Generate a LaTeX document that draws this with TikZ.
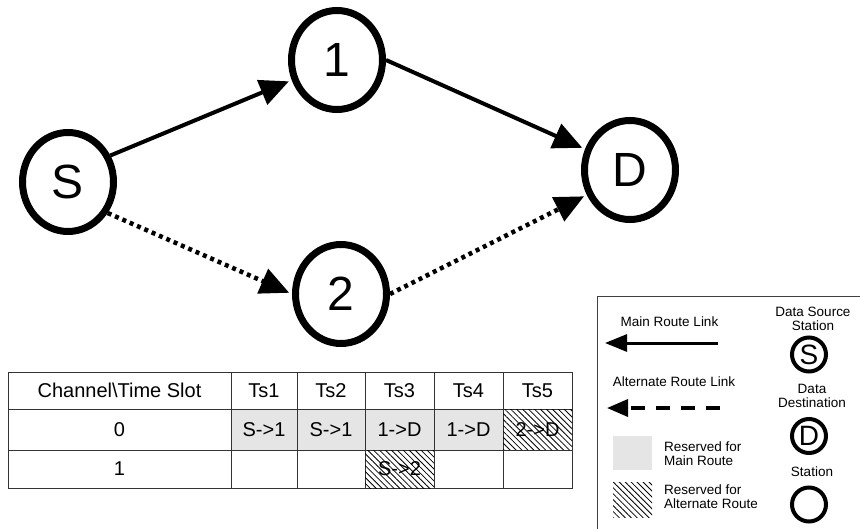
\documentclass[tikz,border=0pt]{standalone}
\usepackage{fontspec}
\setmainfont{Liberation Sans}
\usetikzlibrary{arrows.meta,shapes.geometric,patterns.meta}
\begin{document}
\begin{tikzpicture}[x=1pt,y=-1pt,
  station/.style={ellipse, draw, line width=7pt, minimum width=91pt, minimum height=99pt, inner sep=0pt, font=\fontsize{48}{48}\selectfont},
  mainlink/.style={line width=4pt, shorten >=3pt, -{Triangle[length=29pt,width=26pt]}},
  altlink/.style={line width=4.5pt, dash pattern=on 4pt off 4pt, shorten >=3pt, -{Triangle[length=29pt,width=26pt]}},
  cell/.style={draw=black!80, line width=1pt, inner sep=0pt, font=\fontsize{20}{20}\selectfont},
  maincell/.style={cell, fill=black!10},
  hatch/.style={pattern={Lines[angle=-45, distance=4.2pt, line width=0.8pt]}, pattern color=black},
  altcell/.style={cell, fill=white, postaction={hatch}},
  legtext/.style={font=\fontsize{13.5}{14}\selectfont, inner sep=0pt},
  legstation/.style={circle, draw, line width=4pt, minimum size=34pt, inner sep=0pt, font=\fontsize{28}{28}\selectfont},
  legmain/.style={line width=3pt, -{Triangle[length=22pt,width=17pt]}},
  legalt/.style={line width=3.5pt, dash pattern=on 14pt off 11pt, -{Triangle[length=21pt,width=17pt]}},
]
\useasboundingbox (0,0) rectangle (860,528);

% graph
\node[station] (S) at (68,182) {S};
\node[station] (n1) at (337,60) {1};
\node[station] (n2) at (341,294) {2};
\node[station] (D) at (630,170) {D};
\draw[mainlink] (S.32) -- (n1.204);
\draw[altlink] (S.-38) -- (n2.180);
\draw[mainlink] (n1.0) -- (D.155);
\draw[altlink] (n2.0) -- (D.210);

% table
\node[cell, minimum width=223pt, minimum height=37pt] (h0) at (119.5,390.5) {Channel\textbackslash Time Slot};
\node[cell, minimum width=66pt, minimum height=37pt] (h1) at (264,390.5) {Ts1};
\node[cell, minimum width=68pt, minimum height=37pt] (h2) at (331,390.5) {Ts2};
\node[cell, minimum width=69pt, minimum height=37pt] (h3) at (399.5,390.5) {Ts3};
\node[cell, minimum width=69pt, minimum height=37pt] (h4) at (468.5,390.5) {Ts4};
\node[cell, minimum width=69pt, minimum height=37pt] (h5) at (537.5,390.5) {Ts5};

\node[cell, minimum width=223pt, minimum height=41pt] (a0) at (119.5,429.5) {0};
\node[maincell, minimum width=66pt, minimum height=41pt] (a1) at (264,429.5) {S->1};
\node[maincell, minimum width=68pt, minimum height=41pt] (a2) at (331,429.5) {S->1};
\node[maincell, minimum width=69pt, minimum height=41pt] (a3) at (399.5,429.5) {1->D};
\node[maincell, minimum width=69pt, minimum height=41pt] (a4) at (468.5,429.5) {1->D};
\node[altcell, minimum width=69pt, minimum height=41pt] (a5) at (537.5,429.5) {2->D};

\node[cell, minimum width=223pt, minimum height=38pt] (b0) at (119.5,469) {1};
\node[cell, minimum width=66pt, minimum height=38pt] (b1) at (264,469) {};
\node[cell, minimum width=68pt, minimum height=38pt] (b2) at (331,469) {};
\node[altcell, minimum width=69pt, minimum height=38pt] (b3) at (399.5,469) {S->2};
\node[cell, minimum width=69pt, minimum height=38pt] (b4) at (468.5,469) {};
\node[cell, minimum width=69pt, minimum height=38pt] (b5) at (537.5,469) {};

% legend
\node[draw=black!75, line width=1pt, anchor=north west, minimum width=290pt, minimum height=260pt, inner sep=0pt] (legend) at (597,296) {};
\node[legtext] (lmain) at (669.5,322) {Main Route Link};
\coordinate (m1) at (718,343);
\coordinate (m0) at (605,343);
\draw[legmain] (m1) -- (m0);
\node[legtext] (lalt) at (674,382) {Alternate Route Link};
\coordinate (d1) at (720,408);
\coordinate (d0) at (607,408);
\draw[legalt] (d1) -- (d0);
\node[fill=black!10, minimum width=39pt, minimum height=34pt, inner sep=0pt] (gsq) at (632.5,453) {};
\node[legtext, anchor=west, align=left] (lgsq) at (664,454) {Reserved for\\Main Route};
\node[hatch, minimum width=39pt, minimum height=35pt, inner sep=0pt] (hsq) at (632.5,499.5) {};
\node[legtext, anchor=west, align=left] (lhsq) at (664,497) {Reserved for\\Alternate Route};

\node[legtext, align=center] (lsrc) at (813,318.5) {Data Source\\Station};
\node[legstation] (cs) at (809,354.5) {S};
\node[legtext, align=center] (ldst) at (812,395.5) {Data\\Destination};
\node[legstation] (cd) at (809,436) {D};
\node[legtext] (lsta) at (812,472) {Station};
\node[legstation] (cx) at (809,504.5) {};
\end{tikzpicture}
\end{document}
